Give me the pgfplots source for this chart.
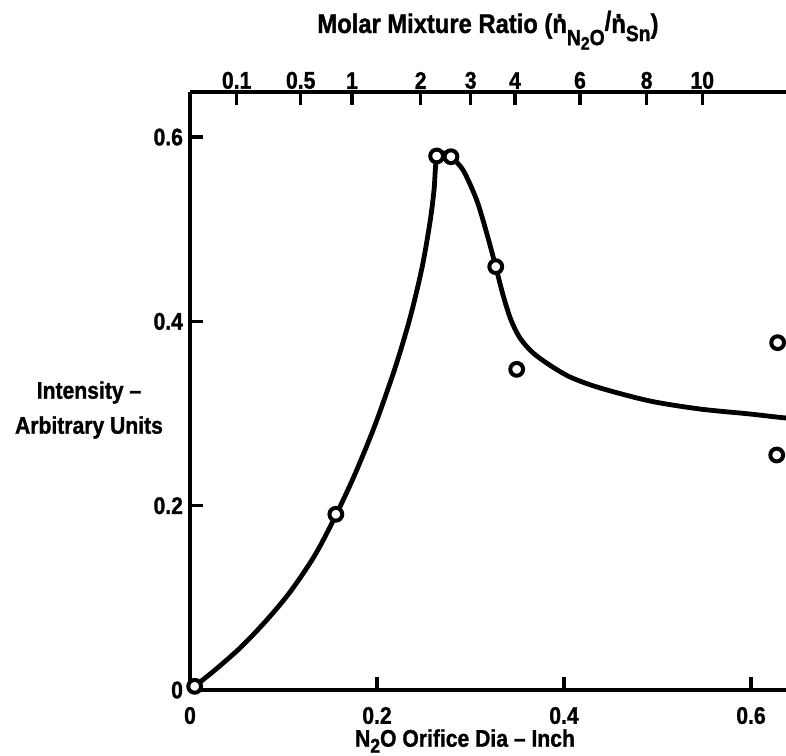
\documentclass[border=0pt]{standalone}
\usepackage{fontspec}
\setmainfont{Liberation Sans}[BoldFeatures={FakeStretch=0.88,FakeBold=1.2}]
\usepackage{pgfplots}
\pgfplotsset{compat=1.18}
\newcommand\ndot{\ooalign{n\cr\hidewidth\raise0.55em\hbox{.}\hidewidth\cr}}
\begin{document}
\begin{tikzpicture}
\pgfplotsset{
  common/.style={
    scale only axis, width=317.9pt, height=299.03pt,
    xmin=0, xmax=0.68, ymin=0, ymax=0.649,
    axis line style={-, line width=1.6pt},
    tick align=inside,
    major tick length=6.5pt,
    major tick style={black, line width=1.7pt},
    tick label style={font=\fontsize{12}{14}\selectfont\bfseries},
  }
}
\begin{axis}[common,
  axis x line*=bottom, axis y line*=left,
  xtick={0,0.2,0.4,0.6}, xticklabels={0,0.2,0.4,0.6},
  ytick={0,0.2,0.4,0.6}, yticklabels={0,0.2,0.4,0.6},
  xticklabel style={yshift=-5pt},
  unbounded coords=jump,
]
% tick marks (bottom, left, top)
\addplot[line width=1.7pt, no marks] coordinates {
(0.2,0) (0.2,0.0141) (0.2,nan)
(0.4,0) (0.4,0.0141) (0.4,nan)
(0.6,0) (0.6,0.0141)
};
\addplot[line width=1.7pt, no marks] coordinates {
(0,0.2) (0.0139,0.2) (nan,0.2)
(0,0.4) (0.0139,0.4) (nan,0.4)
(0,0.6) (0.0139,0.6)
};
\addplot[line width=1.7pt, no marks] coordinates {
(0.0499,0.649) (0.0499,0.6349) (0.0499,nan)
(0.1184,0.649) (0.1184,0.6349) (0.1184,nan)
(0.1733,0.649) (0.1733,0.6349) (0.1733,nan)
(0.2467,0.649) (0.2467,0.6349) (0.2467,nan)
(0.3002,0.649) (0.3002,0.6349) (0.3002,nan)
(0.3476,0.649) (0.3476,0.6349) (0.3476,nan)
(0.4171,0.649) (0.4171,0.6349) (0.4171,nan)
(0.4884,0.649) (0.4884,0.6349) (0.4884,nan)
(0.5479,0.649) (0.5479,0.6349)
};
\addplot[line width=2.4pt, smooth, tension=0.5] coordinates {
(0.0053,0.0043) (0.0267,0.0217) (0.0535,0.0456) (0.0802,0.0738) (0.1070,0.1063)
(0.1337,0.1465) (0.1561,0.1899) (0.1765,0.2344) (0.1979,0.2876) (0.2193,0.3494)
(0.2353,0.4037) (0.2481,0.4580) (0.2567,0.5079) (0.2610,0.5426) (0.2636,0.5751)
(0.2717,0.5827) (0.2791,0.5784)
(0.2920,0.5643) (0.3066,0.5317) (0.3173,0.4959) (0.3270,0.4594)
(0.3348,0.4286) (0.3433,0.4015) (0.3529,0.3820) (0.3658,0.3668) (0.3829,0.3538)
(0.4064,0.3397) (0.4385,0.3278) (0.4920,0.3136) (0.5455,0.3049) (0.5989,0.2995)
(0.6374,0.2952) (0.68,0.2925)
};
\addplot[only marks, mark=*, mark size=3.2pt,
  mark options={fill=white, draw=black, line width=2pt}] coordinates {
(0.005,0.004) (0.156,0.1907) (0.2638,0.5795) (0.2791,0.5787)
(0.327,0.4594) (0.3494,0.348) (0.6285,0.3769) (0.6275,0.255)
};
\end{axis}
\begin{axis}[common, axis x line*=top, axis y line=none,
  xtick={0.0499,0.1184,0.1733,0.2467,0.3002,0.3476,0.4171,0.4884,0.5479},
  xticklabels={0.1,0.5,1,2,3,4,6,8,10},
  xticklabel style={yshift=-2pt}]
\end{axis}
\node[font=\fontsize{13.5}{15}\selectfont\bfseries, anchor=base west, inner sep=0pt]
  at (63.5pt,328.5pt) {Molar Mixture Ratio (\ndot\raisebox{-0.45em}{\fontsize{11}{11}\selectfont N\raisebox{-0.2em}{\fontsize{9}{9}\selectfont 2}O}\raisebox{0.1em}{/}\ndot\raisebox{-0.3em}{\fontsize{11}{11}\selectfont Sn})};
\node[font=\fontsize{12}{17.5}\selectfont\bfseries, align=center, inner sep=0pt]
  at (-50.5pt,140pt) {Intensity --\\Arbitrary Units};
\node[font=\fontsize{12}{14}\selectfont\bfseries, inner sep=0pt]
  at (137.5pt,-25.5pt) {N\raisebox{-0.25em}{\fontsize{10}{10}\selectfont 2}O Orifice Dia -- Inch};
\pgfresetboundingbox
\path[use as bounding box] (-95pt,-32.5pt) rectangle (298pt,345pt);
\end{tikzpicture}
\end{document}
